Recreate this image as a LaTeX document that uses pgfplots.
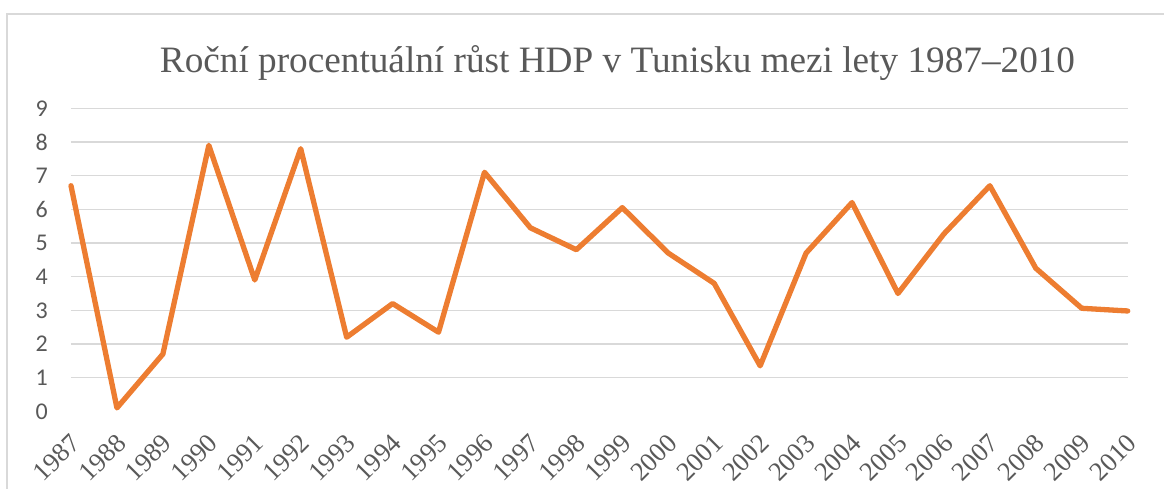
\documentclass[border=0pt]{standalone}
\usepackage{pgfplots}
\pgfplotsset{compat=1.18}
\usepackage{fontspec}
\setmainfont{Liberation Serif}
\newfontfamily\carlito{Carlito}
\definecolor{xlorange}{HTML}{ED7D31}
\definecolor{xlgray}{HTML}{595959}
\definecolor{xlgrid}{HTML}{D9D9D9}
\begin{document}
\begin{tikzpicture}
\path[use as bounding box] (-71pt,-77.7pt) rectangle (1093pt,411.3pt);
\draw[xlgrid, line width=1.6pt] (-64pt,-77.7pt) -- (-64pt,397.3pt) -- (1093pt,397.3pt);
\begin{axis}[
  at={(0pt,0pt)}, anchor=south west,
  scale only axis, width=1056.7pt, height=303pt,
  xmin=0, xmax=23, ymin=0, ymax=9,
  axis line style={draw=none},
  major tick length=0pt,
  ytick={1,2,...,9},
  extra y ticks={0},
  extra y tick style={grid=none},
  xtick={0,1,...,23},
  xticklabels={1987,1988,1989,1990,1991,1992,1993,1994,1995,1996,1997,1998,1999,2000,2001,2002,2003,2004,2005,2006,2007,2008,2009,2010},
  ymajorgrids, grid style={xlgrid, line width=1.5pt},
  /pgf/number format/assume math mode=true,
  yticklabel style={font=\carlito\fontsize{24}{28}\selectfont, text=xlgray, anchor=east, inner sep=0pt, xshift=-23pt},
  xticklabel style={font=\fontsize{26.5}{30}\selectfont, text=xlgray, anchor=north east, inner sep=0pt, yshift=-21pt, xshift=-2pt, rotate=45},
  clip=false,
]
\addplot[xlorange, line width=5.3pt, line join=round, line cap=round] coordinates {
(0,6.7) (1,0.1) (2,1.7) (3,7.9) (4,3.9) (5,7.8) (6,2.2) (7,3.2) (8,2.35) (9,7.1)
(10,5.45) (11,4.8) (12,6.05) (13,4.7) (14,3.8) (15,1.35) (16,4.7) (17,6.2) (18,3.5) (19,5.27)
(20,6.7) (21,4.25) (22,3.06) (23,2.98)
};
\end{axis}
\node[anchor=base, text=xlgray, inner sep=0pt] at (546.5pt,338.6pt) {\resizebox{915pt}{!}{Roční procentuální růst HDP v Tunisku mezi lety 1987–2010}};
\end{tikzpicture}
\end{document}
